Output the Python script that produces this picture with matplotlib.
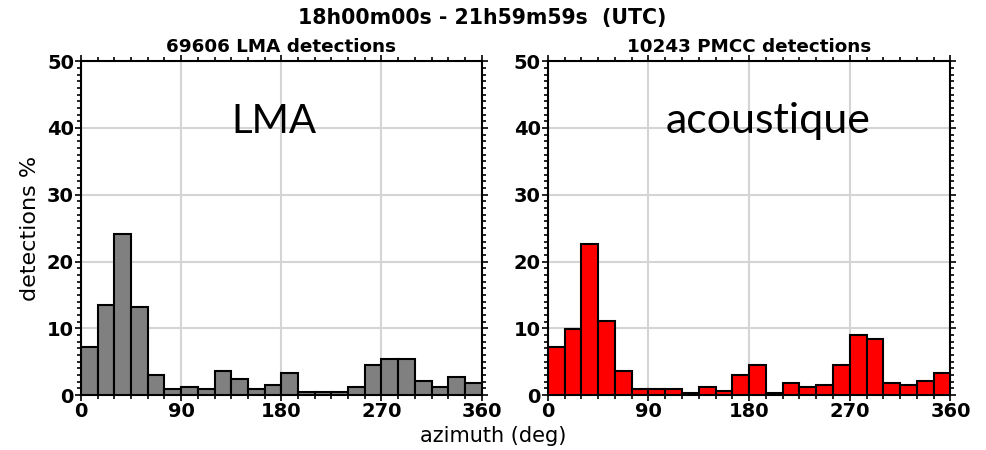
import matplotlib.pyplot as plt
import numpy as np

# azimuth bins of 15 deg, values in % of detections
bin_edges = np.arange(0, 361, 15)
lma_pct = [7.2, 13.5, 24.1, 13.2, 3.0, 0.85, 1.15, 0.85, 3.6, 2.4, 0.85, 1.5,
           3.3, 0.5, 0.5, 0.5, 1.15, 4.5, 5.35, 5.35, 2.1, 1.15, 2.7, 1.8]
pmcc_pct = [7.2, 9.85, 22.6, 11.1, 3.6, 0.85, 0.85, 0.85, 0.3, 1.15, 0.55, 3.0,
            4.5, 0.3, 1.8, 1.15, 1.5, 4.5, 9.0, 8.4, 1.8, 1.5, 2.1, 3.3]

n_lma = 69606
n_pmcc = 10243
xticks = [0, 90, 180, 270, 360]
yticks = [0, 10, 20, 30, 40, 50]

fig = plt.figure(figsize=(9.87, 4.5), dpi=100)
ax1 = fig.add_axes([0.082, 0.122, 0.406, 0.742])
ax2 = fig.add_axes([0.555, 0.122, 0.408, 0.742])

panels = [
    (ax1, lma_pct, '#808080', f'{n_lma} LMA detections', 'LMA', 29, 0.4825),
    (ax2, pmcc_pct, '#ff0000', f'{n_pmcc} PMCC detections', 'acoustique', 31, 0.547),
]

for ax, vals, col, sub, tag, tsize, tx in panels:
    ax.bar(bin_edges[:-1], vals, width=15, align='edge', color=col,
           edgecolor='black', linewidth=1.5, zorder=3)
    ax.set_xlim(0, 360)
    ax.set_ylim(0, 50)
    ax.set_xticks(xticks)
    ax.set_yticks(yticks)
    ax.set_xticks(np.arange(0, 361, 15), minor=True)
    ax.set_yticks(np.arange(0, 51, 1), minor=True)
    ax.grid(True, which='major', color='#d4d4d4', linewidth=1.5, zorder=0)
    ax.tick_params(which='both', direction='out', top=True, right=True,
                   width=1.2, pad=1)
    ax.tick_params(which='major', length=4)
    ax.tick_params(which='minor', length=3)
    for lab in ax.get_xticklabels() + ax.get_yticklabels():
        lab.set_fontsize(14)
        lab.set_fontweight('bold')
    for sp in ax.spines.values():
        sp.set_linewidth(1.5)
    ax.set_title(sub, fontsize=13.2, fontweight='bold', pad=6.5)
    ax.text(tx, 0.784, tag, transform=ax.transAxes, ha='center',
            va='baseline', fontsize=tsize, family='Lato', zorder=5)

ax1.set_ylabel('detections %', fontsize=16, labelpad=5)
fig.text(0.5, 0.008, 'azimuth (deg)', ha='center', va='bottom', fontsize=15)
fig.text(0.489, 0.96, '18h00m00s - 21h59m59s  (UTC)', ha='center',
         va='center', fontsize=14.8, fontweight='bold')

fig.savefig('out.png', dpi=100)
plt.close(fig)
